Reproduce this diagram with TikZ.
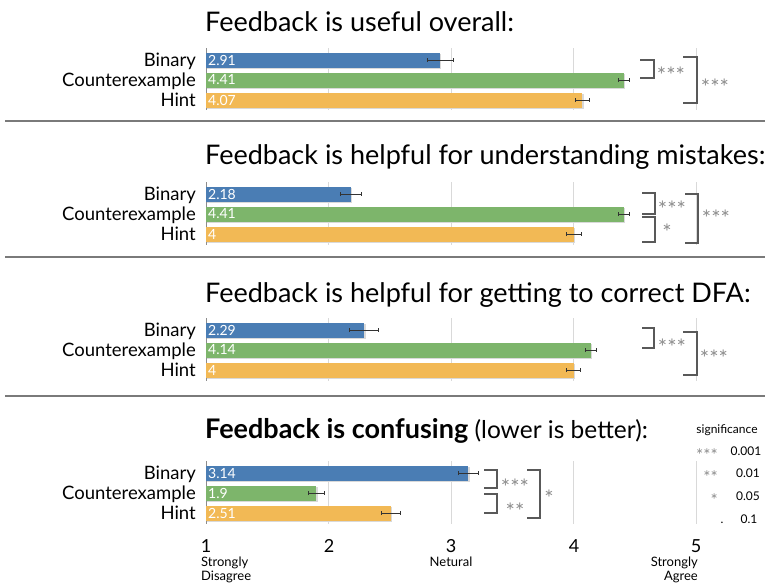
\documentclass[tikz,border=0pt]{standalone}
\usepackage{fontspec}
\setmainfont{Lato}
\usetikzlibrary{arrows.meta}
\tikzset{>={Bar[width=4pt,line width=0.6pt]}}

\definecolor{binblue}{HTML}{4A7DB4}
\definecolor{cexgreen}{HTML}{7DB56B}
\definecolor{hintorange}{HTML}{F2B955}
\definecolor{sepgray}{HTML}{7A7A7A}
\definecolor{stargray}{HTML}{8C8C8C}

\begin{document}
\begin{tikzpicture}[x=1pt,y=-1pt,
    title/.style={anchor=base west,inner sep=0pt,font=\fontsize{27}{30}\selectfont},
    rowlabel/.style={anchor=base east,inner sep=0pt,font=\fontsize{18.5}{21}\selectfont},
    barval/.style={anchor=west,inner sep=2pt,text=white,font=\fontsize{14}{16}\selectfont},
    errbar/.style={<->,line width=0.6pt,black!80},
    bracket/.style={line width=1.1pt,black!65},
    stars/.style={inner sep=0pt,yshift=-5pt,text=stargray,font=\fontsize{22}{24}\selectfont},
    gridline/.style={line width=0.6pt,black!15},
    axisline/.style={line width=0.8pt,black!45},
    tick/.style={anchor=base,inner sep=0pt,font=\fontsize{18}{20}\selectfont},
    axword/.style={inner sep=0pt,font=\fontsize{13}{15}\selectfont},
    legend/.style={inner sep=0pt,font=\fontsize{12}{14}\selectfont},
    legstar/.style={anchor=east,inner sep=0pt,yshift=-4pt,text=stargray,font=\fontsize{17}{19}\selectfont}]

  \useasboundingbox (0,0) rectangle (770,587);

  \def\xone{206}
  \def\unit{122.5}

  % one bar with its value and error whisker
  \def\drawbar#1#2#3#4#5{%
    \pgfmathsetmacro\xend{\xone+(#3-1)*\unit}
    \pgfmathsetmacro\xlo{\xone+(#3-#4-1)*\unit}
    \pgfmathsetmacro\xhi{\xone+(#3+#4-1)*\unit}
    \fill[black!15] (\xone+1,#2-6) rectangle (\xend+1.5,#2+9);
    \fill[#5] (\xone,#2-7.5) rectangle (\xend,#2+7.5);
    \node[barval] (#1) at (\xone,#2) {#3};
    \draw[errbar] (\xlo,#2) -- (\xhi,#2);
  }
  % grid lines of one panel
  \def\drawgrid#1#2{%
    \foreach \g in {2,3,4,5}
      \draw[gridline] ({\xone+(\g-1)*\unit},#1) -- ({\xone+(\g-1)*\unit},#2);
    \draw[axisline] (\xone,#1) -- (\xone,#2);
  }
  % significance bracket
  \def\sigbracket#1#2#3#4{%
    \draw[bracket] (#1,#3) -- (#2,#3) -- (#2,#4) -- (#1,#4);
  }

  % panel 1
  \node[title] (t1) at (205,31) {Feedback is useful overall:};
  \drawgrid{48}{110}
  \drawbar{v1b}{60}{2.91}{0.11}{binblue}
  \drawbar{v1c}{80}{4.41}{0.05}{cexgreen}
  \drawbar{v1h}{100}{4.07}{0.06}{hintorange}
  \node[rowlabel] (l1b) at (196,66) {Binary};
  \node[rowlabel] (l1c) at (196,86) {Counterexample};
  \node[rowlabel] (l1h) at (196,106) {Hint};
  \sigbracket{640}{654}{60}{78}
  \sigbracket{683}{697}{57}{103}
  \node[stars] (s1a) at (671,70) {***};
  \node[stars] (s1b) at (715,82) {***};
  \draw[sepgray,line width=1.8pt] (5,121) -- (765,121);

  % panel 2
  \node[title] (t2) at (205,164) {Feedback is helpful for understanding mistakes:};
  \drawgrid{182}{245}
  \drawbar{v2b}{194}{2.18}{0.09}{binblue}
  \drawbar{v2c}{214}{4.41}{0.05}{cexgreen}
  \drawbar{v2h}{234}{4}{0.065}{hintorange}
  \node[rowlabel] (l2b) at (196,200) {Binary};
  \node[rowlabel] (l2c) at (196,220) {Counterexample};
  \node[rowlabel] (l2h) at (196,240) {Hint};
  \sigbracket{642}{655}{193}{214}
  \sigbracket{642}{655}{217}{242}
  \sigbracket{685}{698}{194}{243}
  \node[stars] (s2a) at (672,204) {***};
  \node[stars] (s2b) at (667,227) {*};
  \node[stars] (s2c) at (716,213) {***};
  \draw[sepgray,line width=1.8pt] (5,257) -- (765,257);

  % panel 3
  \node[title] (t3) at (205,302) {Feedback is helpful for getting to correct DFA:};
  \drawgrid{318}{381}
  \drawbar{v3b}{330}{2.29}{0.12}{binblue}
  \drawbar{v3c}{350}{4.14}{0.05}{cexgreen}
  \drawbar{v3h}{370}{4}{0.06}{hintorange}
  \node[rowlabel] (l3b) at (196,336) {Binary};
  \node[rowlabel] (l3c) at (196,356) {Counterexample};
  \node[rowlabel] (l3h) at (196,376) {Hint};
  \sigbracket{642}{654}{328}{348}
  \sigbracket{683}{697}{332}{375}
  \node[stars] (s3a) at (672,342) {***};
  \node[stars] (s3b) at (714,353) {***};
  \draw[sepgray,line width=1.8pt] (5,396) -- (765,396);

  % panel 4
  \node[title] (t4) at (205,438) {\bfseries Feedback is confusing \mdseries\fontsize{24.5}{28}\selectfont(lower is better):};
  \drawgrid{461}{524}
  \drawbar{v4b}{473}{3.14}{0.086}{binblue}
  \drawbar{v4c}{493}{1.9}{0.07}{cexgreen}
  \drawbar{v4h}{513}{2.51}{0.08}{hintorange}
  \node[rowlabel] (l4b) at (196,479) {Binary};
  \node[rowlabel] (l4c) at (196,499) {Counterexample};
  \node[rowlabel] (l4h) at (196,519) {Hint};
  \sigbracket{484}{497}{470}{488}
  \sigbracket{484}{497}{494}{513}
  \sigbracket{527}{540}{470}{518}
  \node[stars] (s4a) at (515,482) {***};
  \node[stars] (s4b) at (515,506) {**};
  \node[stars] (s4c) at (549,493) {*};

  % axis
  \node[tick] (n1) at (206,552) {1};
  \node[tick] (n2) at (329,552) {2};
  \node[tick] (n3) at (451,552) {3};
  \node[tick] (n4) at (574,552) {4};
  \node[tick] (n5) at (696,552) {5};
  \node[axword,anchor=base west] (sd1) at (201,566) {Strongly};
  \node[axword,anchor=base west] (sd2) at (201,580) {Disagree};
  \node[axword,anchor=base] (neu) at (451,566) {Netural};
  \node[axword,anchor=base east] (sa1) at (698,566) {Strongly};
  \node[axword,anchor=base east] (sa2) at (698,580) {Agree};

  % significance legend
  \node[legend,anchor=base] (sig) at (727,433) {significance};
  \node[legstar] (k1) at (718,451) {***};
  \node[legend,anchor=base] (p1) at (746,455) {0.001};
  \node[legstar] (k2) at (718,473) {**};
  \node[legend,anchor=base] (p2) at (748,477) {0.01};
  \node[legstar] (k3) at (718,496) {*};
  \node[legend,anchor=base] (p3) at (748,500) {0.05};
  \node[legend,anchor=base] (k4) at (722,523) {.};
  \node[legend,anchor=base] (p4) at (749,523) {0.1};

\end{tikzpicture}
\end{document}
